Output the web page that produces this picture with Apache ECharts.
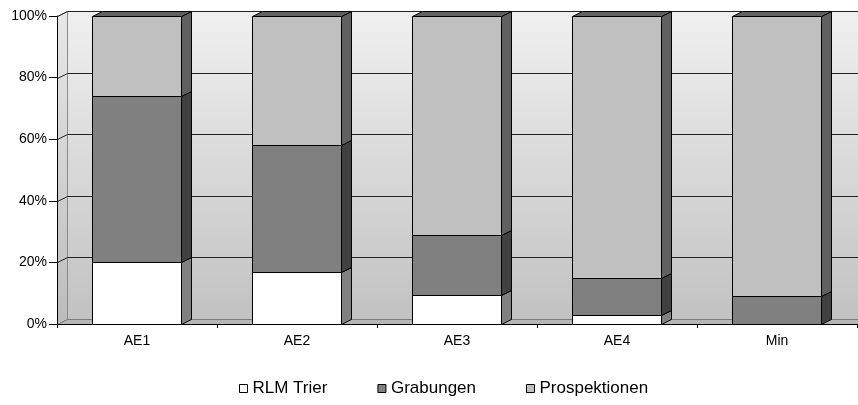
<!DOCTYPE html>
<html>
<head>
<meta charset="utf-8">
<script src="https://cdn.jsdelivr.net/npm/echarts@6/dist/echarts.min.js"></script>
<style>
  html, body { margin: 0; padding: 0; background: #fff; }
  #chart { width: 858px; height: 405px; }
</style>
</head>
<body>
<div id="chart"></div>
<script>
// Shares per area (percent of finds), stacked to 100 %
const categories = ['AE1', 'AE2', 'AE3', 'AE4', 'Min'];
const rlmTrier = [20, 17, 9.5, 3, 0];
const grabungen = [54, 41, 19.5, 12, 9];
const prospektionen = [26, 42, 71, 85, 91];
const yTicks = [0, 20, 40, 60, 80, 100];
const seriesNames = ['RLM Trier', 'Grabungen', 'Prospektionen'];

// 3D look: depth offset of the back plane
const DX = 10, DY = -5;
const BAR_RATIO = 0.556;

const faceColors = [
  { front: '#ffffff', side: '#808080', top: '#9a9a9a' },
  { front: '#808080', side: '#404040', top: '#5a5a5a' },
  { front: '#c0c0c0', side: '#606060', top: '#626262' }
];

const seriesValues = [rlmTrier, grabungen, prospektionen];

// stacked [catIndex, base, top] for each series
function stackedData(sIdx) {
  return categories.map((c, i) => {
    let base = 0;
    for (let k = 0; k < sIdx; k++) base += seriesValues[k][i];
    return [i, base, base + seriesValues[sIdx][i]];
  });
}

const crisp = v => Math.round(v) + 0.5;

function renderWalls(params, api) {
  const cs = params.coordSys;
  const xl = crisp(cs.x), xr = crisp(cs.x + cs.width);
  const yTop = crisp(cs.y), yBot = crisp(cs.y + cs.height);
  const children = [];
  const grad = new echarts.graphic.LinearGradient(0, 0, 0, 1, [
    { offset: 0, color: '#f0f0f0' },
    { offset: 1, color: '#c2c2c2' }
  ]);
  const gradL = new echarts.graphic.LinearGradient(0, 0, 0, 1, [
    { offset: 0, color: '#e8e8e8' },
    { offset: 1, color: '#bcbcbc' }
  ]);
  // back wall
  children.push({
    type: 'rect',
    shape: { x: xl + DX, y: yTop + DY, width: xr - xl + 20, height: yBot - yTop },
    style: { fill: grad, stroke: '#9a9a9a', lineWidth: 1 }
  });
  // left side wall
  children.push({
    type: 'polygon',
    shape: { points: [[xl, yTop], [xl + DX, yTop + DY], [xl + DX, yBot + DY], [xl, yBot]] },
    style: { fill: gradL, stroke: '#8a8a8a', lineWidth: 1 }
  });
  // floor
  children.push({
    type: 'polygon',
    shape: { points: [[xl, yBot], [xl + DX, yBot + DY], [xr + DX + 20, yBot + DY], [xr + 20, yBot]] },
    style: { fill: '#b6b6b6', stroke: '#7c7c7c', lineWidth: 1 }
  });
  // gridlines on back wall and side wall
  yTicks.forEach(t => {
    if (t === 0) return;
    const y = crisp(api.coord([0, t])[1]);
    children.push({
      type: 'line',
      shape: { x1: xl + DX, y1: y + DY, x2: xr + DX + 20, y2: y + DY },
      style: { stroke: '#222', lineWidth: 1 }
    });
    children.push({
      type: 'line',
      shape: { x1: xl, y1: y, x2: xl + DX, y2: y + DY },
      style: { stroke: '#222', lineWidth: 1 }
    });
  });
  return { type: 'group', children: children };
}

function makeBarRenderer(sIdx) {
  const col = faceColors[sIdx];
  return function (params, api) {
    const i = api.value(0), base = api.value(1), top = api.value(2);
    if (top - base <= 0) return null;
    const pb = api.coord([i, base]);
    const pt = api.coord([i, top]);
    const w = api.size([1, 0])[0] * BAR_RATIO;
    const x0 = crisp(pb[0] - w / 2 - 0.5), x1 = crisp(pb[0] + w / 2 - 0.5);
    const yb = crisp(pb[1]), yt = crisp(pt[1]);
    const isTop = sIdx === seriesValues.length - 1 ||
      seriesValues.slice(sIdx + 1).every(s => s[i] === 0);
    const stroke = { stroke: '#000', lineWidth: 1, lineJoin: 'miter' };
    const children = [
      {
        type: 'polygon',
        shape: { points: [[x1, yb], [x1 + DX, yb + DY], [x1 + DX, yt + DY], [x1, yt]] },
        style: Object.assign({ fill: col.side }, stroke)
      },
      {
        type: 'rect',
        shape: { x: x0, y: yt, width: x1 - x0, height: yb - yt },
        style: Object.assign({ fill: col.front }, stroke)
      }
    ];
    if (isTop) {
      children.push({
        type: 'polygon',
        shape: { points: [[x0, yt], [x0 + DX, yt + DY], [x1 + DX, yt + DY], [x1, yt]] },
        style: Object.assign({ fill: col.top }, stroke)
      });
    }
    return { type: 'group', children: children };
  };
}

const chart = echarts.init(document.getElementById('chart'), null, { renderer: 'canvas' });

const series = [{
  type: 'custom',
  name: '_walls',
  silent: true,
  z: 0,
  renderItem: renderWalls,
  data: [[0, 0]],
  encode: { x: 0, y: 1 }
}];
seriesNames.forEach((name, s) => {
  series.push({
    type: 'custom',
    name: name,
    z: 2,
    itemStyle: { color: faceColors[s].front, borderColor: '#000', borderWidth: 1 },
    renderItem: makeBarRenderer(s),
    data: stackedData(s),
    encode: { x: 0, y: [1, 2] }
  });
});

chart.setOption({
  animation: false,
  backgroundColor: '#ffffff',
  textStyle: { fontFamily: 'Liberation Sans, Arial, sans-serif' },
  grid: { left: 57, top: 16, width: 800, height: 308 },
  legend: {
    data: seriesNames.map(n => ({ name: n, icon: 'rect' })),
    left: 234,
    top: 375,
    itemWidth: 8,
    itemHeight: 8,
    itemGap: 50,
    itemStyle: { borderColor: '#000', borderWidth: 1 },
    textStyle: { fontSize: 17, color: '#000', fontFamily: 'Liberation Sans, Arial, sans-serif' }
  },
  xAxis: {
    type: 'category',
    data: categories,
    boundaryGap: true,
    axisLine: { lineStyle: { color: '#000', width: 1 } },
    axisTick: { show: true, length: 4, lineStyle: { color: '#000' } },
    axisLabel: { color: '#000', fontSize: 14, margin: 10 },
    splitLine: { show: false }
  },
  yAxis: {
    type: 'value',
    min: 0,
    max: 100,
    interval: 20,
    axisLine: { show: true, lineStyle: { color: '#000', width: 1 } },
    axisTick: { show: true, length: 8, lineStyle: { color: '#000' } },
    axisLabel: { color: '#000', fontSize: 14, margin: 10, formatter: v => v + '%' },
    splitLine: { show: false }
  },
  series: series
});
</script>
</body>
</html>
